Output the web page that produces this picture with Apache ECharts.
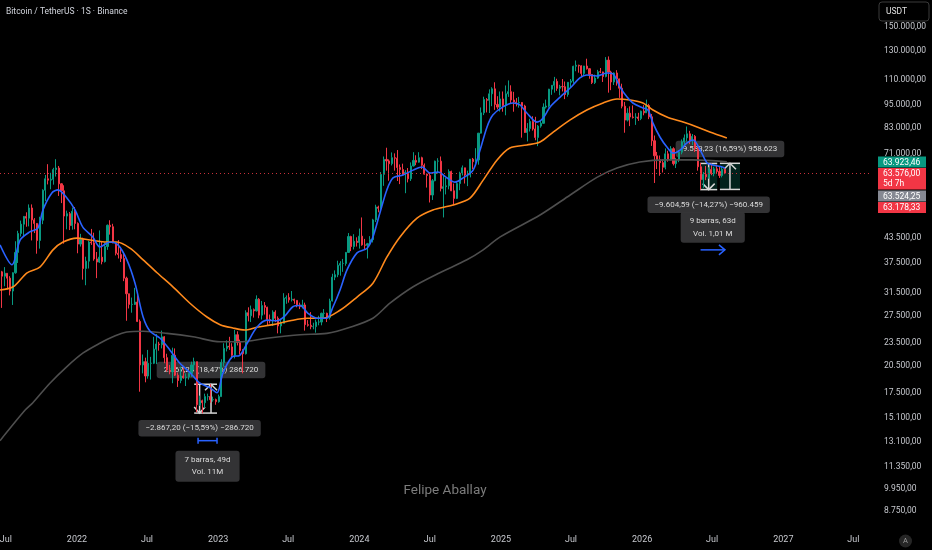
<!DOCTYPE html>
<html><head><meta charset="utf-8">
<script src="https://cdn.jsdelivr.net/npm/echarts@6/dist/echarts.min.js"></script>
<style>html,body{margin:0;padding:0;background:#000;}#c{width:932px;height:550px;}</style>
</head><body><div id="c"></div>
<script>
// ---------- DATA (prices in thousands of USDT) ----------
const firstWeek = '2021-06-14'; // weekly candles, one per Monday
// rows: [open, high, low, close]
const c2021 = [[39.1,41.3,34.8,35.6],[35.6,35.8,28.8,34.7],[34.7,36.6,32.7,35.3],[35.3,35.3,32.1,34.3],[34.3,34.7,31.0,31.8],[31.8,35.5,29.3,35.4],[35.4,42.6,35.2,39.9],[39.9,45.3,37.5,44.6],[44.6,48.1,43.8,47.1],[47.1,49.4,43.9,49.3],[49.3,50.5,46.4,48.8],[48.8,52.9,46.5,51.8],[51.8,52.9,42.8,48.3],[48.3,48.8,44.7,47.3],[47.3,47.4,39.6,42.8],[42.8,49.2,40.8,48.2],[48.2,57.8,47.1,57.5],[57.5,62.9,53.9,61.5],[61.5,67.0,59.5,61.0],[61.0,63.7,57.8,61.3],[61.3,65.6,59.4,64.9],[64.9,69.0,62.3,65.5],[65.5,66.3,55.6,59.7],[59.7,59.9,53.3,57.3],[57.3,59.2,42.0,49.4],[49.4,51.0,45.7,50.1],[50.1,50.6,45.5,46.7],[46.7,51.9,45.6,50.8],[50.8,52.1,45.7,47.3]];
const c2022 = [[47.3,47.6,39.7,41.9],[41.9,44.5,41.3,43.1],[43.1,43.5,34.0,36.3],[36.3,38.9,32.9,37.9],[37.9,42.7,36.3,42.4],[42.4,45.8,41.7,42.2],[42.2,44.8,38.0,38.4],[38.4,40.0,34.3,37.7],[37.7,45.4,37.5,38.8],[38.8,42.6,37.2,37.8],[37.8,42.3,37.6,41.3],[41.3,47.0,40.5,46.8],[46.8,48.2,44.3,46.4],[46.4,47.2,42.1,42.2],[42.2,42.4,39.2,39.7],[39.7,42.9,38.5,39.4],[39.4,40.8,37.7,38.5],[38.5,40.0,33.7,34.3],[34.3,34.6,26.7,31.3],[31.3,31.3,28.7,29.4],[29.4,30.6,28.0,29.4],[29.4,32.4,29.3,29.8],[29.8,31.6,26.5,26.6],[26.6,26.9,17.6,20.6],[20.6,21.9,19.6,21.0],[21.0,21.5,18.6,19.3],[19.3,22.5,19.0,20.8],[20.8,21.6,18.9,20.8],[20.8,24.3,20.7,22.6],[22.6,24.7,20.7,23.3],[23.3,23.6,22.4,23.2],[23.2,25.2,22.7,24.3],[24.3,24.4,20.8,21.5],[21.5,22.0,19.8,20.0],[20.0,20.6,19.5,19.8],[19.8,22.8,18.5,21.8],[21.8,22.7,19.3,19.4],[19.4,19.7,18.1,18.8],[18.8,20.4,18.5,19.3],[19.3,20.5,19.0,19.1],[19.1,19.6,18.2,19.2],[19.2,19.7,18.9,19.6],[19.6,21.0,19.2,20.6],[20.6,21.5,20.0,21.0],[21.0,21.0,15.6,16.3],[16.3,17.2,16.2,16.7],[16.7,16.8,15.5,16.5],[16.5,17.4,16.0,17.1],[17.1,17.4,16.7,17.1],[17.1,18.4,16.5,16.8],[16.8,17.1,16.6,16.8],[16.8,16.9,16.3,16.6]];
const c2023 = [[16.6,17.3,16.5,17.1],[17.1,21.3,17.1,20.9],[20.9,23.4,20.4,22.7],[22.7,23.8,22.3,23.0],[23.0,24.3,22.5,22.9],[22.9,23.4,21.4,21.8],[21.8,25.3,21.4,24.6],[24.6,25.1,23.1,23.5],[23.5,23.9,21.9,22.4],[22.4,22.6,19.6,22.0],[22.0,28.4,21.9,28.0],[28.0,28.9,26.6,27.5],[27.5,29.2,26.5,28.5],[28.5,28.7,27.2,28.3],[28.3,31.0,28.2,30.3],[30.3,30.5,27.1,27.6],[27.6,30.0,26.9,29.2],[29.2,29.8,27.7,28.9],[28.9,29.0,26.0,26.9],[26.9,27.7,26.3,26.7],[26.7,28.4,25.9,28.1],[28.1,28.4,26.5,27.1],[27.1,27.4,24.8,25.9],[25.9,26.8,24.8,26.3],[26.3,31.4,26.3,30.5],[30.5,31.0,29.5,30.6],[30.6,31.4,29.7,30.2],[30.2,31.8,29.9,30.3],[30.3,30.4,29.5,30.1],[30.1,30.1,28.9,29.3],[29.3,29.7,28.6,29.0],[29.0,30.2,28.7,29.3],[29.3,29.7,25.2,26.1],[26.1,26.8,25.8,26.0],[26.0,28.1,25.4,25.8],[25.8,26.4,25.4,25.8],[25.8,26.9,24.9,26.5],[26.5,27.5,26.0,26.5],[26.5,28.0,26.0,27.9],[27.9,28.6,27.2,27.9],[27.9,28.0,26.5,27.2],[27.2,30.4,26.9,30.0],[30.0,35.2,29.9,34.5],[34.5,35.9,33.9,35.0],[35.0,38.0,34.5,37.0],[37.0,37.9,34.8,37.4],[37.4,38.4,35.6,37.4],[37.4,40.0,36.9,39.9],[39.9,44.7,39.8,43.8],[43.8,44.0,40.2,41.3],[41.3,44.4,40.6,42.6],[42.6,43.6,41.3,42.3]];
const c2024 = [[42.3,45.9,40.8,43.9],[43.9,49.0,41.5,41.7],[41.7,43.2,40.6,41.6],[41.6,42.2,38.5,42.0],[42.0,43.9,41.8,43.0],[43.0,48.6,42.3,48.3],[48.3,52.8,47.7,52.1],[52.1,52.5,50.5,51.7],[51.7,64.0,50.9,63.1],[63.1,70.1,59.0,68.9],[68.9,73.8,64.5,68.3],[68.3,68.9,60.8,67.2],[67.2,71.8,66.5,69.6],[69.6,71.4,64.5,69.4],[69.4,72.8,60.7,65.7],[65.7,66.9,59.6,64.9],[64.9,67.2,62.8,63.1],[63.1,64.7,56.5,63.9],[63.9,65.5,60.2,61.5],[61.5,67.7,60.7,66.3],[66.3,71.9,66.1,68.5],[68.5,70.6,66.6,67.8],[67.8,71.9,67.6,69.6],[69.6,70.0,65.1,66.6],[66.6,67.3,63.0,63.2],[63.2,63.4,58.4,62.7],[62.7,63.8,53.5,55.9],[55.9,61.4,54.3,60.8],[60.8,68.4,60.6,68.2],[68.2,69.4,63.4,68.2],[68.2,70.1,57.1,58.1],[58.1,62.7,49.0,58.7],[58.7,61.8,56.1,59.0],[59.0,65.0,57.8,64.2],[64.2,64.5,57.2,57.3],[57.3,59.8,52.6,54.8],[54.8,60.6,54.6,59.8],[59.8,64.1,57.5,63.6],[63.6,66.5,62.7,65.6],[65.6,65.6,59.8,62.9],[62.9,64.5,58.9,62.9],[62.9,69.0,62.0,69.0],[69.0,69.5,65.1,68.0],[68.0,73.6,67.5,68.7],[68.7,80.5,66.8,80.4],[80.4,93.5,80.2,90.6],[90.6,99.6,89.4,98.0],[98.0,98.8,90.8,97.5],[97.5,104.0,90.5,101.3],[101.3,105.3,94.2,104.3],[104.3,108.4,92.2,95.2],[95.2,99.9,92.5,93.7],[93.7,102.7,91.3,98.3]];
const c2025 = [[98.3,102.7,91.2,94.5],[94.5,106.4,89.3,101.3],[101.3,109.6,99.5,102.6],[102.6,106.5,96.0,97.7],[97.7,102.5,91.2,96.5],[96.5,98.8,94.1,96.1],[96.1,99.5,93.4,96.3],[96.3,96.5,78.3,94.3],[94.3,95.0,80.5,80.7],[80.7,85.3,76.6,82.6],[82.6,87.5,81.2,86.1],[86.1,88.8,81.6,82.4],[82.4,88.5,77.1,78.4],[78.4,84.3,74.5,83.8],[83.8,86.5,83.0,85.2],[85.2,95.8,85.1,93.7],[93.7,97.9,92.9,94.3],[94.3,104.3,93.4,104.1],[104.1,106.7,100.7,106.5],[106.5,111.9,102.0,109.0],[109.0,110.7,103.1,104.6],[104.6,106.8,100.4,105.7],[105.7,110.5,102.7,105.6],[105.6,108.9,98.2,100.9],[100.9,108.5,99.6,108.4],[108.4,110.5,105.3,109.2],[109.2,119.5,107.5,119.1],[119.1,123.2,115.7,119.8],[119.8,120.2,114.7,119.4],[119.4,119.8,112.0,114.2],[114.2,119.4,112.7,119.3],[119.3,124.5,116.8,117.4],[117.4,117.6,110.7,113.5],[113.5,113.6,107.3,108.2],[108.2,113.4,107.3,111.1],[111.1,116.6,110.6,115.3],[115.3,117.9,114.4,115.2],[115.2,115.4,108.6,112.2],[112.2,125.7,111.6,123.5],[123.5,126.2,102.0,115.1],[115.1,116.0,103.5,108.6],[108.6,114.9,106.7,114.5],[114.5,116.4,106.3,110.6],[110.6,110.8,98.9,104.7],[104.7,107.5,93.0,94.2],[94.2,96.6,80.6,86.8],[86.8,93.1,86.1,90.4],[90.4,94.1,83.8,88.4],[88.4,94.6,87.6,88.2],[88.2,90.4,84.4,88.4],[88.4,90.6,86.4,87.6],[87.6,91.8,86.8,91.5]];
const c2026 = [[91.5,94.8,89.3,90.6],[90.6,97.9,90.5,94.6],[94.6,95.5,87.3,88.5],[88.5,90.0,74.6,76.9],[76.9,79.3,60.0,70.4],[70.4,72.0,65.1,68.8],[68.8,70.5,62.6,67.6],[67.6,69.0,63.8,65.8],[65.8,73.5,65.0,71.2],[71.2,72.5,68.0,69.1],[69.1,74.5,68.5,73.4],[73.4,74.0,66.5,67.2],[67.2,69.5,65.5,68.7],[68.7,72.8,67.8,71.9],[71.9,77.5,71.0,76.4],[76.4,79.8,75.0,78.2],[78.2,83.6,76.5,80.1],[80.1,81.5,75.4,77.2],[77.2,80.0,75.0,78.9],[78.9,79.5,72.0,73.5],[73.5,74.0,64.5,66.0],[66.0,67.5,57.7,61.2],[61.2,64.0,58.3,63.1],[63.1,66.3,61.0,62.2],[62.2,65.8,61.5,64.9],[64.9,67.3,62.8,63.4],[63.4,66.0,62.4,65.2],[65.2,66.8,63.5,64.2],[64.2,66.2,61.8,62.7],[62.7,65.9,62.0,65.0],[65.0,65.5,63.2,63.576]];

// moving averages: [date, value in thousands]
const maFast = [['2021-06-16',41.7],['2021-07-17',37.1],['2021-08-07',42.9],['2021-09-01',45.0],['2021-09-22',46.0],['2021-10-05',51.2],['2021-10-28',56.6],['2021-11-13',57.6],['2021-12-06',54.9],['2021-12-27',51.2],['2022-01-16',46.3],['2022-02-11',43.7],['2022-03-01',41.2],['2022-03-27',42.4],['2022-04-17',41.7],['2022-05-10',38.2],['2022-05-31',33.3],['2022-06-21',27.3],['2022-07-09',25.1],['2022-08-04',24.1],['2022-08-29',22.5],['2022-09-24',20.8],['2022-10-20',19.7],['2022-11-15',18.5],['2022-12-11',18.0],['2022-12-29',17.5],['2023-01-13',19.6],['2023-02-06',21.6],['2023-02-26',21.8],['2023-03-17',23.4],['2023-04-11',25.7],['2023-05-07',26.8],['2023-06-02',26.7],['2023-06-23',27.5],['2023-07-13',29.0],['2023-08-01',29.2],['2023-08-21',27.9],['2023-09-13',27.1],['2023-10-09',27.1],['2023-10-25',29.0],['2023-11-12',32.0],['2023-11-30',36.0],['2023-12-26',39.8],['2024-01-21',40.9],['2024-02-05',43.7],['2024-02-23',50.3],['2024-03-12',57.6],['2024-03-28',61.8],['2024-04-23',62.9],['2024-05-19',64.7],['2024-06-11',65.9],['2024-07-02',63.6],['2024-07-22',64.0],['2024-08-15',61.8],['2024-09-04',60.3],['2024-09-25',61.8],['2024-10-21',64.7],['2024-11-08',72.8],['2024-11-26',83.4],['2024-12-11',89.4],['2025-01-06',93.8],['2025-02-01',96.0],['2025-02-19',94.9],['2025-03-09',90.5],['2025-04-04',85.8],['2025-04-20',87.9],['2025-05-08',93.8],['2025-06-03',99.4],['2025-06-29',104.8],['2025-07-24',111.2],['2025-08-11',113.1],['2025-09-06',112.5],['2025-10-02',114.5],['2025-10-18',113.8],['2025-11-05',105.4],['2025-11-23',99.4],['2025-12-08',96.0],['2026-01-03',93.2],['2026-01-16',92.1],['2026-01-29',85.3],['2026-02-16',78.6],['2026-03-06',74.1],['2026-03-22',71.5],['2026-04-09',72.8],['2026-04-27',75.9],['2026-05-13',77.2],['2026-05-31',72.8],['2026-06-18',67.5],['2026-07-03',66.7],['2026-07-27',65.9],['2026-08-03',65.5]];
const maSlow = [['2021-06-16',32.0],['2021-07-20',32.6],['2021-08-25',35.4],['2021-09-27',36.6],['2021-10-31',40.5],['2021-11-26',42.4],['2022-01-01',43.4],['2022-02-04',42.9],['2022-03-20',42.4],['2022-04-14',42.4],['2022-05-18',40.9],['2022-06-21',38.2],['2022-07-27',35.4],['2022-09-06',32.6],['2022-10-20',29.6],['2022-12-03',27.3],['2023-01-06',26.1],['2023-02-08',25.6],['2023-03-11',25.3],['2023-04-11',25.7],['2023-05-23',26.1],['2023-07-06',26.7],['2023-08-19',27.1],['2023-09-29',27.1],['2023-11-12',28.4],['2023-12-26',30.7],['2024-02-05',33.3],['2024-03-12',38.8],['2024-04-15',43.7],['2024-05-29',48.8],['2024-07-09',51.2],['2024-08-30',52.7],['2024-10-13',54.9],['2024-11-16',61.0],['2024-12-22',68.7],['2025-01-24',73.7],['2025-03-09',75.0],['2025-04-12',76.3],['2025-05-16',80.9],['2025-06-29',86.9],['2025-08-11',92.1],['2025-09-22',96.0],['2025-10-28',98.3],['2025-12-01',97.7],['2026-01-03',96.0],['2026-01-29',92.1],['2026-03-06',88.4],['2026-04-17',85.8],['2026-05-23',83.4],['2026-06-25',80.9],['2026-08-08',78.1]];
const maLong = [['2021-06-16',13.2],['2021-08-20',15.8],['2021-09-09',16.5],['2021-10-23',18.5],['2021-12-06',20.4],['2022-01-17',22.1],['2022-03-01',23.4],['2022-04-04',24.3],['2022-05-10',25.0],['2022-06-21',25.1],['2022-08-22',24.8],['2022-10-28',24.3],['2023-01-06',23.6],['2023-02-26',23.6],['2023-05-07',24.1],['2023-08-01',24.6],['2023-10-09',24.8],['2023-12-08',25.7],['2024-02-05',27.1],['2024-03-20',29.6],['2024-05-19',32.6],['2024-07-27',35.4],['2024-10-05',38.2],['2024-11-16',40.5],['2024-12-30',43.7],['2025-04-12',49.7],['2025-06-29',55.9],['2025-09-06',62.0],['2025-10-28',65.5],['2025-12-26',67.9],['2026-03-06',68.7],['2026-05-13',68.7],['2026-08-08',67.9]];

// axis ticks
const yTicks = [8750, 9950, 11350, 13100, 15100, 17500, 20500, 23500, 27500, 31500, 37500, 43500, 71000, 83000, 95000, 110000, 130000, 150000];
const xTicks = ['2021-07-01','2022-01-01','2022-07-01','2023-01-01','2023-07-01','2024-01-01','2024-07-01','2025-01-01','2025-07-01','2026-01-01','2026-07-01','2027-01-01','2027-07-01'];
const xTickLabels = ['Jul','2022','Jul','2023','Jul','2024','Jul','2025','Jul','2026','Jul','2027','Jul'];
const lastPrice = 63576;

// drawings (anchored in date / price)
const priceRanges = [
  {from:'2022-10-31', to:'2022-11-28', start:18391, end:15524, fill:false},
  {from:'2022-11-28', to:'2022-12-29', start:15524, end:18391, fill:false},
  {from:'2026-05-31', to:'2026-07-14', start:67306, end:57701, fill:true},
  {from:'2026-07-21', to:'2026-09-11', start:57765, end:67348, fill:true}
];
const rangeTexts = ['−2.867,20 (−15,59%) −286.720', '2.867,20 (18,47%) 286.720', '−9.604,59 (−14,27%) −960.459', '9.583,23 (16,59%) 958.623'];
const dateRanges = [
  {from:'2022-11-10', to:'2022-12-29', price:13200, text:'7 barras, 49d\nVol. 11M', below:true, arrow:false},
  {from:'2026-06-01', to:'2026-08-03', price:40500, text:'9 barras, 63d\nVol. 1,01 M', below:false, arrow:true}
];
const sideLabels = [
  {text:'63.923,46', bg:'#089981'},
  {text:'63.576,00\n5d 7h', bg:'#f23645'},
  {text:'63.524,25', bg:'#868993'},
  {text:'63.178,33', bg:'#f23645'}
];

// ---------- BUILD ----------
const DAY = 864e5;
const t0 = Date.parse(firstWeek);
const allC = [].concat(c2021, c2022, c2023, c2024, c2025, c2026);
const ohlc = allC.map((c, i) => [t0 + i * 7 * DAY, c[0] * 1000, c[3] * 1000, c[2] * 1000, c[1] * 1000]);
const toLine = arr => arr.map(p => [Date.parse(p[0]), p[1] * 1000]);

function fmt(v) {
  const s = v.toFixed(2).split('.');
  return s[0].replace(/\B(?=(\d{3})+(?!\d))/g, '.') + ',' + s[1];
}
const FONT = 'Roboto, "Liberation Sans", sans-serif';
const chart = echarts.init(document.getElementById('c'));
chart.setOption({
  backgroundColor: '#000',
  animation: false,
  grid: {left: 0, right: 62, top: 0, bottom: 25},
  xAxis: {
    type: 'time', min: Date.parse('2021-06-16'), max: Date.parse('2027-08-13'),
    axisLine: {show: false}, axisTick: {show: false}, splitLine: {show: false},
    axisLabel: {show: false}
  },
  yAxis: {
    type: 'log', logBase: 10, position: 'right', min: 8043, max: 175800,
    axisLine: {show: false}, axisTick: {show: false}, splitLine: {show: false},
    axisLabel: {show: false}
  },
  series: [
    {
      type: 'candlestick', data: ohlc, encode: {x: 0, y: [1, 2, 3, 4]}, barWidth: 1.6,
      itemStyle: {color: '#089981', color0: '#f23645', borderColor: '#089981', borderColor0: '#f23645', borderWidth: 1},
      markLine: {
        silent: true, symbol: 'none', label: {show: false},
        lineStyle: {color: '#c8313b', type: [1, 3], width: 1, opacity: 1},
        emphasis: {disabled: true},
        data: [{yAxis: lastPrice, lineStyle: {color: '#c8313b'}}]
      }
    },
    {type: 'line', data: toLine(maLong), smooth: 0.3, showSymbol: false, lineStyle: {color: '#4e4e4e', width: 1.6}},
    {type: 'line', data: toLine(maSlow), smooth: 0.3, showSymbol: false, lineStyle: {color: '#ff8a1c', width: 1.6}},
    {type: 'line', data: toLine(maFast), smooth: 0.3, showSymbol: false, lineStyle: {color: '#2962ff', width: 1.6}}
  ]
});

// ---------- labels & drawings via the library's scales ----------
const P = (d, v) => chart.convertToPixel({gridIndex: 0}, [typeof d === 'string' ? Date.parse(d) : d, v]);
const els = [];
const AXC = '#c6c8ce';
yTicks.forEach(v => {
  const y = P('2024-01-01', v)[1];
  els.push({type: 'text', z: 50, x: 884, y: y, style: {text: fmt(v), fill: AXC, font: '8.5px ' + FONT, verticalAlign: 'middle'}});
});
xTicks.forEach((d, i) => {
  const x = P(d, 20000)[0];
  els.push({type: 'text', z: 50, x: x, y: 540, style: {text: xTickLabels[i], fill: AXC, font: '9px ' + FONT, align: 'center', verticalAlign: 'middle'}});
});
const WHITE = '#d6d6d6';
const tagStyle = (text, va) => ({
  text, align: 'center', verticalAlign: va, fill: '#dcdcdc', font: '8px ' + FONT,
  backgroundColor: 'rgba(54,54,56,0.95)', padding: [3, 7], borderRadius: 3, lineHeight: 10.5
});
priceRanges.forEach((r, i) => {
  const a = P(r.from, r.start), b = P(r.to, r.end);
  const x0 = a[0], x1 = b[0], ys = a[1], ye = b[1];
  const top = Math.min(ys, ye), bot = Math.max(ys, ye), xm = (x0 + x1) / 2, dir = ye > ys ? 1 : -1;
  if (r.fill) els.push({type: 'rect', z: 0, shape: {x: x0, y: top, width: x1 - x0, height: bot - top}, style: {fill: 'rgba(8,153,129,0.22)'}});
  const ls = {stroke: WHITE, lineWidth: 1.5};
  els.push({type: 'line', z: 0, shape: {x1: x0, y1: top, x2: x1, y2: top}, style: ls});
  els.push({type: 'line', z: 0, shape: {x1: x0, y1: bot, x2: x1, y2: bot}, style: ls});
  els.push({type: 'line', z: 0, shape: {x1: xm, y1: ys, x2: xm, y2: ye}, style: ls});
  const hw = Math.min(6, (x1 - x0) / 2);
  els.push({type: 'polyline', z: 0, shape: {points: [[xm - hw, ye - dir * 6], [xm, ye], [xm + hw, ye - dir * 6]]}, style: {stroke: WHITE, lineWidth: 1.5, fill: null}});
  if (dir > 0) els.push({type: 'text', z: 1, x: xm, y: bot + 7, style: tagStyle(rangeTexts[i], 'top')});
  else els.push({type: 'text', z: 1, x: xm, y: top - 6, style: tagStyle(rangeTexts[i], 'bottom')});
});
dateRanges.forEach(r => {
  const a = P(r.from, r.price), b = P(r.to, r.price);
  const y = a[1], x0 = a[0], x1 = b[0];
  const bs = {stroke: '#2962ff', lineWidth: 1.5, fill: null};
  els.push({type: 'line', z: 0, shape: {x1: x0, y1: y, x2: x1, y2: y}, style: bs});
  if (r.arrow) {
    els.push({type: 'polyline', z: 0, shape: {points: [[x1 - 6, y - 5], [x1, y], [x1 - 6, y + 5]]}, style: bs});
  } else {
    els.push({type: 'line', z: 0, shape: {x1: x0, y1: y - 3, x2: x0, y2: y + 3}, style: bs});
    els.push({type: 'line', z: 0, shape: {x1: x1, y1: y - 3, x2: x1, y2: y + 3}, style: bs});
  }
  const cx = (x0 + x1) / 2;
  const st = tagStyle(r.text, r.below ? 'top' : 'bottom');
  st.padding = [3, 9]; st.lineHeight = 12.5;
  els.push({type: 'text', z: 0, x: cx, y: r.below ? y + 10 : y - 7, style: st});
});
// right-side price labels, stacked around the last price
const yc = P(ohlc[ohlc.length - 1][0], lastPrice)[1];
let yy = yc - 16.5;
sideLabels.forEach(s => {
  const h = s.text.indexOf('\n') >= 0 ? 21.5 : 11;
  els.push({type: 'rect', z: 60, shape: {x: 878, y: yy, width: 48, height: h}, style: {fill: s.bg}});
  els.push({type: 'text', z: 61, x: 883, y: yy + 1.5, style: {text: s.text, fill: '#fff', font: '8.5px ' + FONT, verticalAlign: 'top', lineHeight: 9.5}});
  yy += h + (h > 12 ? 1 : 0.5);
});
// header, currency button, watermark, auto button
els.push({type: 'text', z: 50, x: 6, y: 12, style: {text: 'Bitcoin / TetherUS · 1S · Binance', fill: '#d1d4dc', font: '8.5px ' + FONT, verticalAlign: 'middle'}});
els.push({type: 'rect', z: 60, shape: {x: 879, y: 2, width: 50, height: 19, r: 3}, style: {fill: '#000', stroke: '#3a3a3a', lineWidth: 1}});
els.push({type: 'text', z: 61, x: 886, y: 12, style: {text: 'USDT', fill: '#e0e0e0', font: '8.5px ' + FONT, verticalAlign: 'middle'}});
els.push({type: 'text', z: 0, x: 445, y: 491, style: {text: 'Felipe Aballay', fill: '#7c7c7c', font: '13.5px ' + FONT, align: 'center', verticalAlign: 'middle'}});
els.push({type: 'circle', z: 60, shape: {cx: 905.5, cy: 541, r: 6.5}, style: {fill: '#262626'}});
els.push({type: 'text', z: 61, x: 905.5, y: 541.5, style: {text: 'A', fill: '#9a9a9a', font: '7.5px ' + FONT, align: 'center', verticalAlign: 'middle'}});
chart.setOption({graphic: {elements: els}});
</script>
</body></html>
